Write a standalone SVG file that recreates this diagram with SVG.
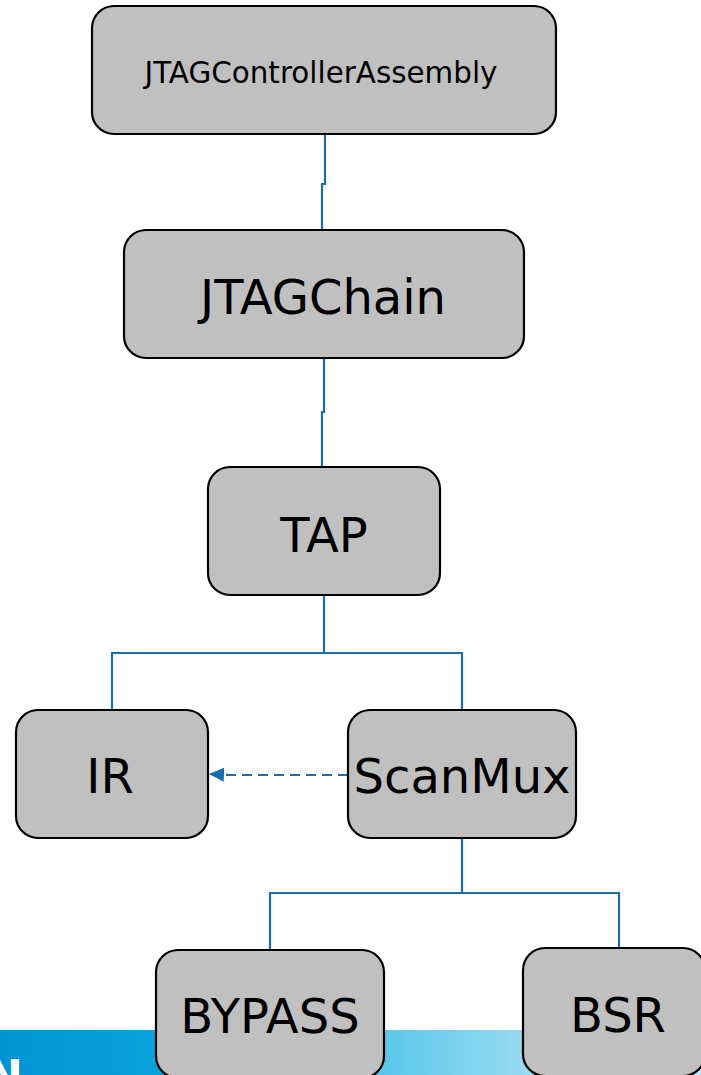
<svg xmlns="http://www.w3.org/2000/svg" width="701" height="1075" viewBox="0 0 701 1075">
<style>
.box{fill:#c0c0c0;stroke:#000;stroke-width:2.2}
.lbl{font-family:"DejaVu Sans",Verdana,sans-serif;fill:#000;text-anchor:middle}
.big{font-size:48px}
.small{font-size:29.4px}
.conn{fill:none;stroke:#1a6eaa;stroke-width:2.2}
.dash{stroke-dasharray:10 6}
</style>
<defs>
<linearGradient id="bar" x1="0" y1="0" x2="1" y2="0" gradientUnits="objectBoundingBox">
<stop offset="0" stop-color="#0094d4"/>
<stop offset="0.25" stop-color="#0aa4dc"/>
<stop offset="0.55" stop-color="#5ac8ea"/>
<stop offset="0.78" stop-color="#a2def4"/>
<stop offset="1" stop-color="#b8e6f7"/>
</linearGradient>
<marker id="arr" markerWidth="15" markerHeight="14" refX="14" refY="7" orient="auto" markerUnits="userSpaceOnUse" viewBox="0 0 15 14">
<path d="M0,0 L15,7 L0,14 z" fill="#1a6eaa"/>
</marker>
</defs>
<rect width="701" height="1075" fill="#fff"/>
<rect x="0" y="1030" width="701" height="45" fill="url(#bar)"/>
<text x="-14" y="1092" font-family="DejaVu Sans,sans-serif" font-size="44" font-weight="bold" fill="#fff">N</text>
<g id="connectors">
<path class="conn" d="M325,134 V184 H322 V230"/>
<path class="conn" d="M324,358 V412 H322 V467"/>
<path class="conn" d="M324,595 V653 M112,710 V653 H462 V710"/>
<path class="conn" d="M462,838 V893 M270,950 V893 H619 V948"/>
<path class="conn dash" d="M348,775 H230 L210,774" marker-end="url(#arr)"/>
</g>
<g id="JTAGControllerAssembly">
<rect class="box" x="92" y="6" width="464" height="128" rx="22"/>
<text class="lbl small" x="321" y="83">JTAGControllerAssembly</text>
</g>
<g id="JTAGChain">
<rect class="box" x="124" y="230" width="400" height="128" rx="22"/>
<text class="lbl big" x="323" y="314">JTAGChain</text>
</g>
<g id="TAP">
<rect class="box" x="208" y="467" width="232" height="128" rx="22"/>
<text class="lbl big" x="324" y="552">TAP</text>
</g>
<g id="IR">
<rect class="box" x="16" y="710" width="192" height="128" rx="22"/>
<text class="lbl big" x="110" y="793">IR</text>
</g>
<g id="ScanMux">
<rect class="box" x="348" y="710" width="228" height="128" rx="22"/>
<text class="lbl big" x="462" y="793">ScanMux</text>
</g>
<g id="BYPASS">
<rect class="box" x="156" y="950" width="228" height="128" rx="22"/>
<text class="lbl big" x="270" y="1033">BYPASS</text>
</g>
<g id="BSR">
<rect class="box" x="523" y="948" width="182" height="128" rx="22"/>
<text class="lbl big" x="618" y="1032">BSR</text>
</g>
</svg>
